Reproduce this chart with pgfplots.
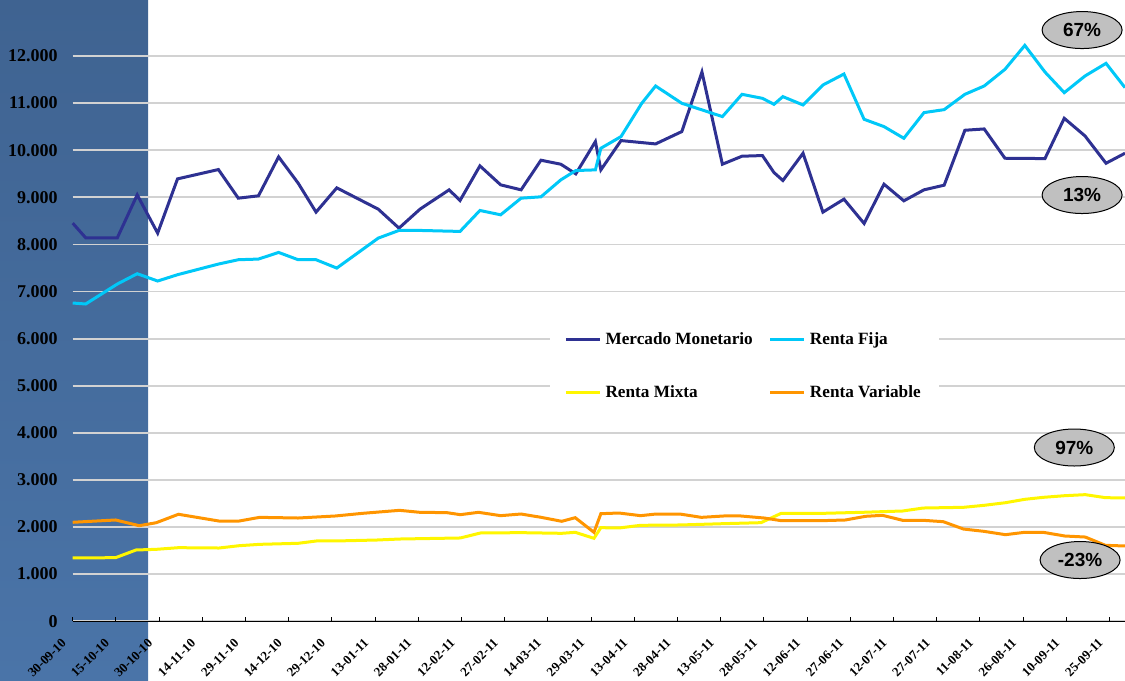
\documentclass[border=0pt]{standalone}
\usepackage{fontspec}
\setmainfont{Liberation Serif}
\newfontfamily\arialfont{Liberation Sans}
\usepackage{pgfplots}
\pgfplotsset{compat=1.18}
\usetikzlibrary{shapes.geometric}

\definecolor{mmblue}{HTML}{2E3192}
\definecolor{rfcyan}{HTML}{00C8F8}
\definecolor{rmyellow}{HTML}{FFF600}
\definecolor{rvorange}{HTML}{FF9500}
\definecolor{bgtop}{HTML}{3F6391}
\definecolor{bgbot}{HTML}{4A74A8}
\definecolor{ellgray}{HTML}{C0C0C0}

\begin{document}
\begin{tikzpicture}
\useasboundingbox (-36.35pt,-29.5pt) rectangle (526.15pt,310.6pt);
\shade[top color=bgtop, bottom color=bgbot] (-36.35pt,-29.5pt) rectangle (37.65pt,310.6pt);
\begin{axis}[
  scale only axis, width=526.15pt, height=310.6pt,
  xmin=0, xmax=365.4, ymin=0, ymax=13190,
  axis x line*=bottom, axis y line*=left,
  y axis line style={draw=none},
  x axis line style={black, line width=0.6pt},
  ytick={0,1000,...,12000},
  yticklabels={0,1.000,2.000,3.000,4.000,5.000,6.000,7.000,8.000,9.000,10.000,11.000,12.000},
  ytick style={draw=none},
  yticklabel style={font=\bfseries\fontsize{9}{9}\selectfont, xshift=-4pt},
  xtick={0,15,...,360},
  xticklabels={30-09-10,15-10-10,30-10-10,14-11-10,29-11-10,14-12-10,29-12-10,13-01-11,28-01-11,12-02-11,27-02-11,14-03-11,29-03-11,13-04-11,28-04-11,13-05-11,28-05-11,12-06-11,27-06-11,12-07-11,27-07-11,11-08-11,26-08-11,10-09-11,25-09-11},
  xticklabel style={font=\bfseries\fontsize{6.5}{6.5}\selectfont, xshift=-2pt, yshift=-7.5pt, rotate=45, anchor=east},
  xtick align=inside, major tick length=2.2pt,
  xtick style={black, line width=0.5pt},
  ymajorgrids, grid style={gray!35, line width=0.9pt},
  clip=false,
  legend columns=2,
  legend cell align=left,
  legend style={at={(0.4536,0.4978)}, anchor=north west, draw=none, fill=white,
    inner xsep=7pt, inner ysep=8pt, row sep=15pt,
    font=\bfseries\fontsize{8.6}{8.6}\selectfont,
    /tikz/every even column/.append style={column sep=6pt}},
  every axis plot/.append style={line width=1.5pt, mark=none}
]
\addplot[color=mmblue] coordinates {
(0,8452) (4.5,8141) (15.5,8141) (22.4,9053) (29.5,8240) (36.4,9392) (50.6,9590)
(57.5,8982) (64.5,9032) (71.5,9859) (78.3,9300) (84.5,8686) (91.7,9201) (98.9,8975)
(106.1,8749) (113.3,8346) (120.6,8749) (130.7,9159) (134.5,8933) (141.4,9668)
(148.6,9265) (155.7,9159) (162.6,9788) (169.5,9703) (174.7,9498) (181.5,10184)
(183.4,9583) (190.4,10205) (202.4,10134) (211.5,10396) (218.5,11661) (225.6,9703)
(232.4,9873) (239.5,9887) (243.5,9527) (246.6,9357) (253.6,9936) (260.5,8686)
(267.8,8961) (274.8,8445) (281.7,9279) (288.6,8926) (295.6,9159) (302.6,9258)
(309.8,10424) (316.5,10452) (323.7,9830) (330.6,9826) (337.6,9823) (344.3,10678)
(351.5,10304) (358.8,9724) (365.4,9936)
};
\addlegendentry{Mercado Monetario}
\addplot[color=rfcyan] coordinates {
(0,6756) (4.5,6735) (15.5,7159) (22.4,7378) (29.5,7223) (36.4,7357) (50.6,7583)
(57.5,7675) (64.5,7689) (71.5,7830) (78.3,7675) (84.5,7675) (91.7,7498)
(106.1,8134) (113.3,8297) (120.6,8297) (134.5,8276) (141.4,8721) (148.6,8629)
(155.7,8982) (162.6,9011) (169.5,9371) (174.7,9569) (181.5,9583) (183.4,10042)
(190.4,10290) (197.6,10997) (202.4,11364) (211.5,10997) (225.6,10714)
(232.4,11187) (239.5,11102) (243.5,10975) (246.6,11138) (253.6,10961)
(260.5,11385) (267.8,11618) (274.8,10657) (281.7,10502) (288.6,10254)
(295.6,10799) (302.6,10862) (309.8,11187) (316.5,11364) (323.7,11717)
(330.6,12226) (337.6,11661) (344.3,11223) (351.5,11576) (358.8,11845) (365.4,11329)
};
\addlegendentry{Renta Fija}
\addplot[color=rmyellow] coordinates {
(0,1342) (14.9,1349) (22.0,1512) (29.0,1526) (36.7,1561) (50.8,1554) (57.8,1603)
(64.9,1632) (78.3,1654) (84.6,1703) (91.2,1703) (105.7,1724) (113.5,1745)
(134.6,1767) (141.6,1873) (155.7,1880) (169.8,1866) (174.5,1887) (181.0,1760)
(183.4,1986) (189.7,1979) (197.2,2036) (210.8,2043) (226.1,2071) (239.0,2092)
(246.0,2290) (260.3,2290) (274.2,2312) (288.2,2340) (295.3,2403) (309.3,2418)
(316.4,2460) (323.9,2516) (330.5,2587) (337.0,2630) (344.5,2665) (351.6,2687)
(358.6,2623) (365.4,2616)
};
\addlegendentry{Renta Mixta}
\addplot[color=rvorange] coordinates {
(0,2100) (14.9,2149) (23.1,2028) (29.0,2091) (36.7,2270) (50.8,2127) (57.8,2127)
(64.9,2205) (78.3,2191) (91.2,2234) (100.6,2290) (113.5,2354) (120.5,2312)
(129.9,2305) (134.6,2262) (140.9,2312) (148.6,2241) (155.7,2276) (162.7,2205)
(169.8,2121) (174.5,2198) (181.0,1887) (183.4,2283) (189.7,2297) (197.2,2241)
(202.6,2276) (210.8,2276) (218.3,2205) (226.1,2234) (232.0,2234) (240.1,2191)
(246.0,2135) (260.3,2135) (268.3,2149) (275.3,2227) (281.2,2248) (288.2,2142)
(295.3,2142) (302.3,2113) (309.3,1957) (316.4,1908) (323.9,1837) (330.5,1887)
(337.0,1887) (344.5,1809) (351.6,1787) (358.6,1611) (365.4,1597)
};
\addlegendentry{Renta Variable}

\begin{scope}[every node/.style={ellipse, draw=black, line width=0.5pt, fill=ellgray,
    minimum width=40pt, minimum height=18.5pt, inner sep=0pt,
    font=\arialfont\bfseries\fontsize{9.5}{10}\selectfont}]
\node at (axis cs:350.5,12552) {67\%};
\node at (axis cs:350.5,9049) {13\%};
\node at (axis cs:347.8,3688) {97\%};
\node at (axis cs:349.8,1299) {-23\%};
\end{scope}
\end{axis}
\end{tikzpicture}
\end{document}
